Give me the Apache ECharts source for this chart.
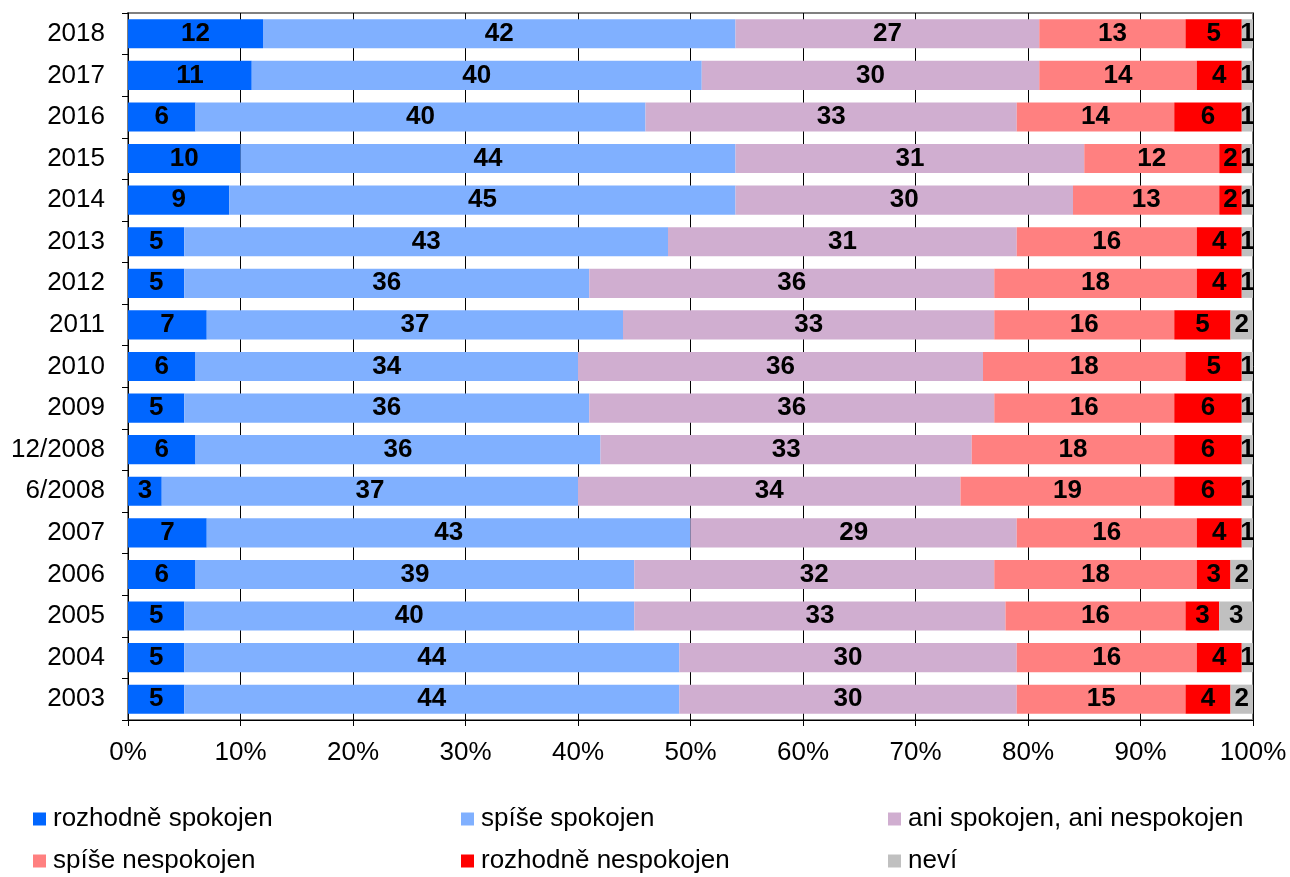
<!DOCTYPE html>
<html><head><meta charset="utf-8">
<script src="https://cdn.jsdelivr.net/npm/echarts@6/dist/echarts.min.js"></script>
<style>html,body{margin:0;padding:0;background:#fff}#c{width:1290px;height:877px}</style>
</head><body><div id="c"></div>
<script>
const categories = ['2018','2017','2016','2015','2014','2013','2012','2011','2010','2009','12/2008','6/2008','2007','2006','2005','2004','2003'];
const seriesNames = ['rozhodně spokojen','spíše spokojen','ani spokojen, ani nespokojen','spíše nespokojen','rozhodně nespokojen','neví'];
const rozhodneSpokojen = [12,11,6,10,9,5,5,7,6,5,6,3,7,6,5,5,5];
const spiseSpokojen    = [42,40,40,44,45,43,36,37,34,36,36,37,43,39,40,44,44];
const aniAni           = [27,30,33,31,30,31,36,33,36,36,33,34,29,32,33,30,30];
const spiseNespokojen  = [13,14,14,12,13,16,18,16,18,16,18,19,16,18,16,16,15];
const rozhodneNespokojen = [5,4,6,2,2,4,4,5,5,6,6,6,4,3,3,4,4];
const nevi             = [1,1,1,1,1,1,1,2,1,1,1,1,1,2,3,1,2];
const xTicks = [0,10,20,30,40,50,60,70,80,90,100];

const colors = ['#0066FF','#80B0FF','#D0AED0','#FF8080','#FF0000','#C0C0C0'];
const values = [rozhodneSpokojen, spiseSpokojen, aniAni, spiseNespokojen, rozhodneNespokojen, nevi];
const font = 'Liberation Sans, Arial, sans-serif';

const legendPos = [[33,806],[461,806],[888,806],[33,848],[461,848],[888,848]];
const legends = seriesNames.map((n,i)=>({
  data:[n], left:legendPos[i][0], top:legendPos[i][1], orient:'horizontal',
  icon:'rect', itemWidth:13, itemHeight:13, itemGap:0, padding:0,
  textStyle:{fontFamily:font, fontSize:26, color:'#000', padding:[0,0,0,2]},
  selectedMode:false
}));

const chart = echarts.init(document.getElementById('c'));
chart.setOption({
  animation:false,
  color: colors,
  grid:{left:128, right:37, top:13, bottom:157, show:true, borderColor:'#808080', borderWidth:2, backgroundColor:'transparent'},
  legend: legends,
  xAxis:{type:'value', min:0, max:100, interval:10,
    axisLine:{show:true, lineStyle:{color:'#000', width:1}},
    axisTick:{show:true, length:6, lineStyle:{color:'#000'}},
    splitLine:{show:true, lineStyle:{color:'#000', width:1}},
    axisLabel:{formatter:v=>xTicks.includes(v)?v+'%':'', fontFamily:font, fontSize:26, color:'#000', margin:20}
  },
  yAxis:{type:'category', data:categories, inverse:true,
    axisLine:{show:true, lineStyle:{color:'#000', width:1}},
    axisTick:{show:true, length:6, lineStyle:{color:'#000'}},
    axisLabel:{fontFamily:font, fontSize:26, color:'#000', margin:23}
  },
  series: seriesNames.map((n,i)=>({
    name:n, type:'bar', stack:'t', data:values[i], barCategoryGap:'30%',
    itemStyle:{color:colors[i]},
    label:{show:true, position:'inside', color:'#000', fontWeight:'bold', fontFamily:font, fontSize:26,
      textBorderWidth:0}
  }))
});
</script></body></html>
